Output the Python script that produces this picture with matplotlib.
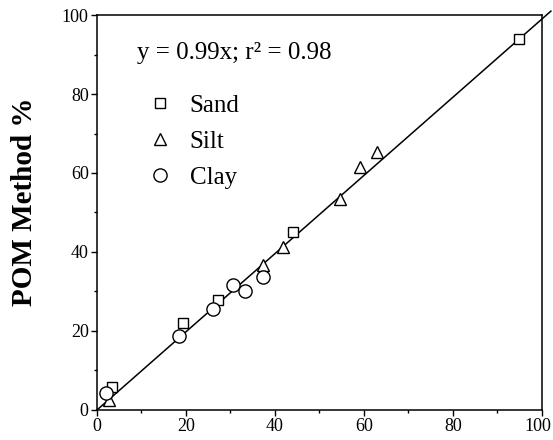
import matplotlib.pyplot as plt
import matplotlib.transforms as mtransforms
import numpy as np
from matplotlib.ticker import MultipleLocator

plt.rcParams['font.family'] = ['Liberation Serif', 'DejaVu Serif']

# reference method % (x) vs POM method % (y)
sand_x = [3.3, 19.3, 27.3, 44.0, 94.9]
sand_y = [5.9, 22.1, 27.8, 45.1, 93.9]
silt_x = [2.8, 37.4, 41.9, 54.5, 59.0, 63.0]
silt_y = [2.5, 36.7, 41.2, 53.3, 61.4, 65.4]
clay_x = [2.0, 18.4, 26.1, 30.6, 33.3, 37.2]
clay_y = [4.3, 18.7, 25.5, 31.6, 30.0, 33.6]
slope = 0.99
fit_x = np.array([0, 102])

fig = plt.figure(figsize=(5.53, 4.4), dpi=100)
ax = fig.add_axes([0.1754, 0.0682, 0.8047, 0.8977])

ax.plot(fit_x, slope * fit_x, color='black', lw=1.1, clip_on=False, zorder=2)

mk = dict(linestyle='none', mfc='white', mec='black', mew=1.0, clip_on=False, zorder=3)
ax.plot(sand_x, sand_y, marker='s', ms=7.5, label='Sand', **mk)
ax.plot(silt_x, silt_y, marker='^', ms=8, label='Silt', **mk)
ax.plot(clay_x, clay_y, marker='o', ms=9.5, label='Clay', **mk)

ax.set_xlim(0, 100)
ax.set_ylim(0, 100)
ax.xaxis.set_major_locator(MultipleLocator(20))
ax.yaxis.set_major_locator(MultipleLocator(20))
ax.xaxis.set_minor_locator(MultipleLocator(10))
ax.yaxis.set_minor_locator(MultipleLocator(10))
ax.tick_params(which='major', direction='out', length=4, width=1, labelsize=13, pad=2)
ax.tick_params(which='minor', direction='out', length=2.5, width=1)
for s in ax.spines.values():
    s.set_linewidth(1.1)

ax.set_ylabel('POM Method %', fontsize=21, fontweight='bold')
ax.yaxis.set_label_coords(-0.132, 0.527)

ax.text(0.09, 0.905, 'y = 0.99x; r² = 0.98', transform=ax.transAxes,
        fontsize=18, va='center', ha='left')

ax.legend(loc='upper left', bbox_to_anchor=(0.113, 0.80), frameon=False,
          fontsize=18, handlelength=1.0, handletextpad=0.7, labelspacing=0.55,
          borderaxespad=0, borderpad=0)

# nudge "100" on the x axis so it stays inside the figure
fig.canvas.draw()
for lbl in ax.get_xticklabels():
    if lbl.get_text() == '100':
        lbl.set_transform(lbl.get_transform() +
                          mtransforms.ScaledTranslation(-3 / 72, 0, fig.dpi_scale_trans))

fig.savefig('out.png', dpi=100)
